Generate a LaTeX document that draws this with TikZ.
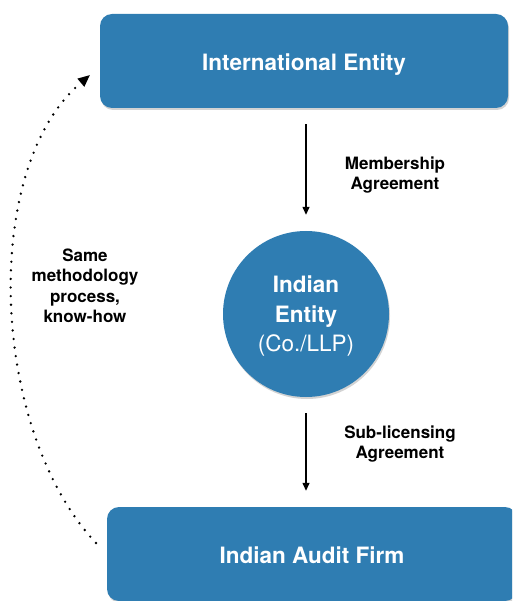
\documentclass[tikz,border=0pt]{standalone}
\usepackage{fontspec}
\setmainfont{TeX Gyre Heros}
\usetikzlibrary{arrows.meta, shadows}
\definecolor{boxblue}{RGB}{47,125,178}

\begin{document}
\begin{tikzpicture}[x=1pt, y=-1pt]

  % Define styles
  \tikzset{
    entity/.style={
      fill=boxblue,
      text=white,
      font=\fontsize{22.5}{29.5}\selectfont\bfseries,
      drop shadow={shadow xshift=1pt, shadow yshift=-2pt, opacity=0.35}
    },
    firm/.style={entity, rectangle, rounded corners=12pt, minimum height=94pt,
      text height=19pt, text depth=0pt},
    hub/.style={entity, circle, inner sep=0pt, minimum size=166pt, align=center,
      text depth=0pt, font=\fontsize{22.5}{29.5}\selectfont},
    note/.style={font=\fontsize{17}{20.5}\selectfont\bfseries, align=center},
    flow/.style={-{Triangle[length=8pt,width=7pt]}, line width=1.3pt,
      shorten <=16pt, shorten >=16pt},
    knowhow/.style={-{Triangle[length=12pt,width=10pt]}, line width=2.6pt,
      dash pattern=on 0pt off 8.6pt, line cap=round}
  }

  \path[use as bounding box, clip] (0,0) rectangle (512,601);

  %% Entities
  \node[firm, minimum width=408pt] (intl) at (304,61) {International Entity};
  \node[hub] (indian) at (306,314)
    {\textbf{Indian}\\\textbf{Entity}\\(Co./LLP)};
  \node[firm, minimum width=410pt] (audit) at (312,554) {Indian Audit Firm};

  %% Agreements
  \draw[flow] (intl.south -| indian) -- (indian);
  \node[note] (membership) at (395,175) {Membership\\Agreement};

  \draw[flow] (indian) -- (audit.north -| indian);
  \node[note] (sublicence) at (400,444) {Sub-licensing\\Agreement};

  %% Know-how loop back to the international entity
  \coordinate (loopstart) at (96,543);
  \coordinate (loopend) at (90,75);
  \draw[knowhow] (loopstart) .. controls (-10,430) and (-20,168) .. (loopend);
  \node[note] (method) at (85,286) {Same\\methodology\\process,\\know-how};

\end{tikzpicture}
\end{document}
